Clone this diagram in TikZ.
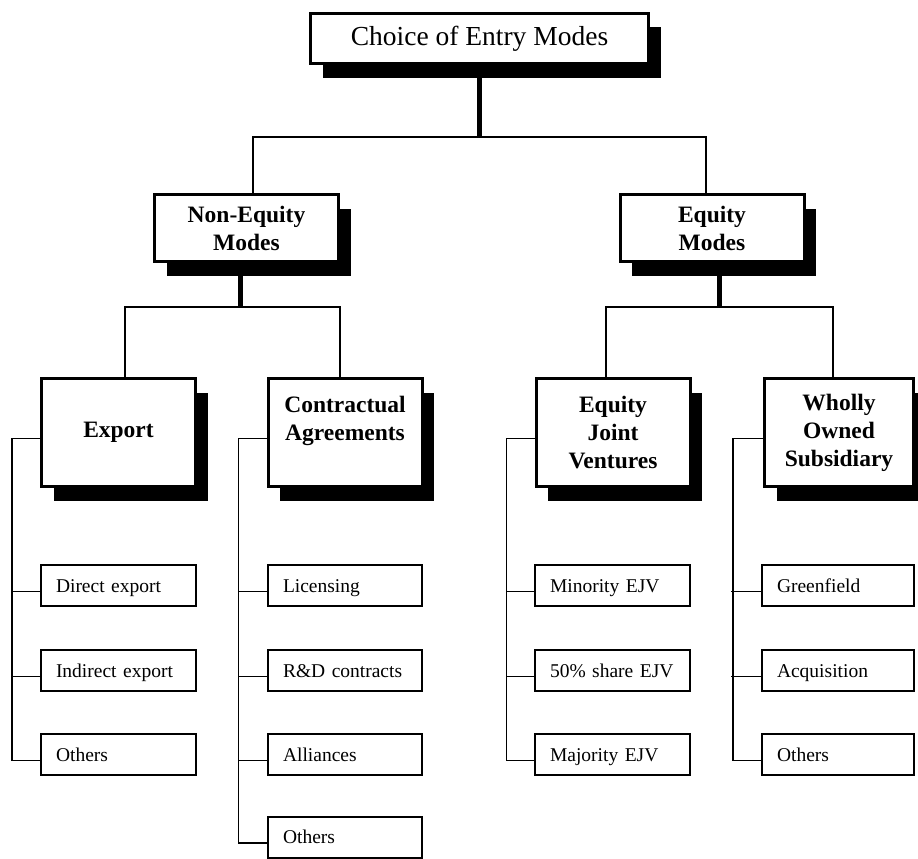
\documentclass[tikz,border=0pt]{standalone}
\usepackage{fontspec}
\setmainfont{Liberation Serif}
\usetikzlibrary{shadows}
\begin{document}
\begin{tikzpicture}[x=1pt,y=-1pt,
  shadowed/.style={draw, fill=white, line width=3pt,
    drop shadow={shadow xshift=12pt, shadow yshift=-14pt, fill=black, opacity=1}},
  rootbox/.style={shadowed, minimum width=338pt, minimum height=50pt,
    font=\fontsize{27.5}{32}\selectfont},
  modebox/.style={shadowed, minimum width=184pt, minimum height=67pt, align=center,
    font=\fontsize{23.5}{28}\selectfont\bfseries},
  typebox/.style={shadowed, minimum width=#1, minimum height=108pt, align=center,
    font=\fontsize{23.5}{28}\selectfont\bfseries},
  leaf/.style={draw, line width=2pt, minimum height=41pt, text width=#1,
    text height=15.5pt, text depth=2.5pt,
    inner xsep=15pt, inner ysep=0pt, align=left, font=\fontsize{19.5}{22}\selectfont},
  conn/.style={line width=1.8pt},
  trunk/.style={line width=5pt}
]
\clip (0,0) rectangle (918,859);

% root and the two groups of modes
\node[rootbox] (root) at (479.5,38.5) {Choice of Entry Modes};
\node[modebox] (ne) at (246.5,228) {Non-Equity\\Modes};
\node[modebox] (eq) at (712,228) {Equity\\Modes};

% entry mode types
\node[typebox=154pt] (ex)  at (118.5,432.5) {Export};
\node[typebox=154pt] (ct)  at (345,432.5)   {Contractual\\Agreements\\~};
\node[typebox=154pt] (ejv) at (613,432.5)   {Equity\\Joint\\Ventures};
\node[typebox=149pt] (wos) at (839,432.5)   {Wholly\\Owned\\Subsidiary};

% export forms
\node[leaf=125pt] (ex1) at (118.5,585.5) {Direct export};
\node[leaf=125pt] (ex2) at (118.5,670.5) {Indirect export};
\node[leaf=125pt] (ex3) at (118.5,754.5) {Others};

% contractual forms
\node[leaf=124pt] (ct1) at (345,585.5) {Licensing};
\node[leaf=124pt] (ct2) at (345,670.5) {R\&D contracts};
\node[leaf=124pt] (ct3) at (345,754.5) {Alliances};
\node[leaf=124pt] (ct4) at (345,837)   {Others};

% joint venture forms
\node[leaf=125pt] (ej1) at (612.5,585.5) {Minority EJV};
\node[leaf=125pt] (ej2) at (612.5,670.5) {50\% share EJV};
\node[leaf=125pt] (ej3) at (612.5,754.5) {Majority EJV};

% subsidiary forms
\node[leaf=122pt] (wo1) at (838,585.5) {Greenfield};
\node[leaf=122pt] (wo2) at (838,670.5) {Acquisition};
\node[leaf=122pt] (wo3) at (838,754.5) {Others};

% junctions of the tree
\coordinate (j0) at (479.5,137);
\coordinate (j1) at (240,307);
\coordinate (j2) at (719,307);

% root to the two groups
\draw[trunk] (root.south) -- (j0);
\draw[conn] ([xshift=6.5pt]ne.north) |- (j0) -| ([xshift=-6pt]eq.north);

% groups to the types
\draw[trunk] ([xshift=-6.5pt]ne.south) -- (j1);
\draw[conn] ([xshift=6.5pt]ex.north) |- (j1) -| ([xshift=-5pt]ct.north);
\draw[trunk] ([xshift=7pt]eq.south) -- (j2);
\draw[conn] ([xshift=-7pt]ejv.north) |- (j2) -| ([xshift=-6pt]wos.north);

% types to their forms
\draw[conn] ([yshift=-6pt]ex.west) -- ++(-28,0) |- ([yshift=-6pt]ex3.west);
\foreach \n in {ex1,ex2} \draw[conn] ([yshift=-6pt]\n.west) -- ++(-28,0);

\draw[conn] ([yshift=-6pt]ct.west) -- ++(-28,0) |- ([yshift=-6pt]ct4.west);
\foreach \n in {ct1,ct2,ct3} \draw[conn] ([yshift=-6pt]\n.west) -- ++(-28,0);

\draw[conn] ([yshift=-6pt]ejv.west) -- ++(-28,0) |- ([yshift=-6pt]ej3.west);
\foreach \n in {ej1,ej2} \draw[conn] ([yshift=-6pt]\n.west) -- ++(-28,0);

\draw[conn] ([yshift=-6pt]wos.west) -- ++(-30,0) |- ([yshift=-6pt]wo3.west);
\foreach \n in {wo1,wo2} \draw[conn] ([yshift=-6pt]\n.west) -- ++(-30,0);
\end{tikzpicture}
\end{document}
